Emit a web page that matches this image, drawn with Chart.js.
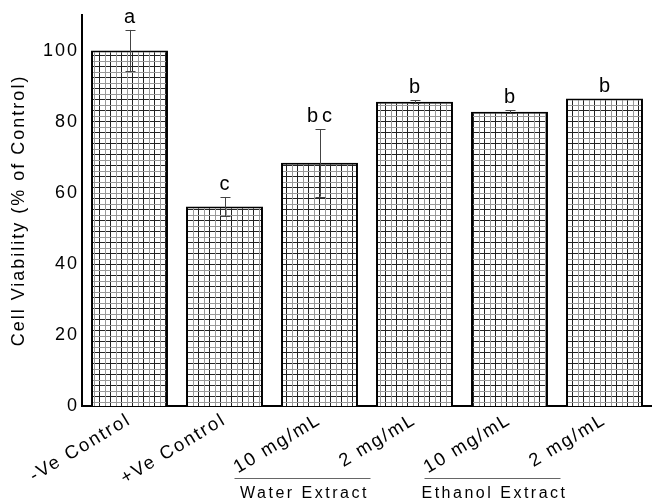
<!DOCTYPE html>
<html>
<head>
<meta charset="utf-8">
<script src="https://cdn.jsdelivr.net/npm/chart.js@4"></script>
<style>
  html, body { margin: 0; padding: 0; background: #fff; }
  #wrap { width: 652px; height: 501px; }
</style>
</head>
<body>
<div id="wrap"><canvas id="chart"></canvas></div>
<script>
const categories = ['-Ve Control', '+Ve Control', '10 mg/mL', '2 mg/mL', '10 mg/mL', '2 mg/mL'];
const viability = [100, 56.1, 68.4, 85.6, 82.8, 86.5];
const errors = [5.8, 2.7, 9.5, 0.4, 0.4, 0];
const letters = ['a', 'c', 'bc', 'b', 'b', 'b'];
const groupLabels = ['Water Extract', 'Ethanol Extract'];
const groupMembers = [[2, 3], [4, 5]];
const yTicks = [0, 20, 40, 60, 80, 100];

// grid hatch fill like the original
function makeHatch() {
  const c = document.createElement('canvas');
  c.width = 11; c.height = 11;
  const g = c.getContext('2d');
  g.fillStyle = '#fff';
  g.fillRect(0, 0, 11, 11);
  g.fillStyle = '#222';
  g.fillRect(0, 0, 11, 1);
  g.fillRect(0, 0, 1, 11);
  g.fillStyle = '#999';
  g.fillRect(0, 6, 11, 1);
  g.fillRect(6, 0, 1, 11);
  return g.createPattern(c, 'repeat');
}

const spacing = {
  id: 'spacing',
  beforeLayout(chart) { chart.ctx.letterSpacing = '2px'; },
  beforeDraw(chart) { chart.ctx.letterSpacing = '2px'; }
};

const extras = {
  id: 'extras',
  afterDatasetsDraw(chart) {
    const ctx = chart.ctx;
    const x = chart.scales.x, y = chart.scales.y;
    ctx.save();
    // error bars
    ctx.strokeStyle = '#444';
    ctx.lineWidth = 1;
    viability.forEach((v, i) => {
      if (!errors[i]) return;
      const px = Math.round(x.getPixelForValue(i)) + 0.5;
      const top = y.getPixelForValue(v + errors[i]);
      const bot = y.getPixelForValue(v - errors[i]);
      ctx.beginPath();
      ctx.moveTo(px, top); ctx.lineTo(px, bot);
      ctx.moveTo(px - 5, Math.round(top) + 0.5); ctx.lineTo(px + 5, Math.round(top) + 0.5);
      ctx.moveTo(px - 5, Math.round(bot) + 0.5); ctx.lineTo(px + 5, Math.round(bot) + 0.5);
      ctx.stroke();
    });
    // significance letters
    ctx.fillStyle = '#000';
    ctx.font = '20px "Liberation Sans", Arial, sans-serif';
    ctx.textAlign = 'center';
    ctx.textBaseline = 'alphabetic';
    ctx.letterSpacing = '4px';
    letters.forEach((t, i) => {
      const px = x.getPixelForValue(i) + 2;
      const top = y.getPixelForValue(viability[i] + errors[i]);
      ctx.fillText(t, px, top - 7);
    });
    // group labels under the rotated ticks
    ctx.letterSpacing = '2.5px';
    ctx.font = '16px "Liberation Sans", Arial, sans-serif';
    ctx.strokeStyle = '#666';
    groupMembers.forEach((m, k) => {
      const a = x.getPixelForValue(m[0]);
      const b = x.getPixelForValue(m[1]);
      const left = a - 85, right = b - 44;
      ctx.beginPath();
      ctx.moveTo(left, 478.5); ctx.lineTo(right, 478.5);
      ctx.stroke();
      ctx.fillText(groupLabels[k], (left + right) / 2 + 2, 498);
    });
    ctx.restore();
  }
};

new Chart(document.getElementById('chart'), {
  type: 'bar',
  data: {
    labels: categories,
    datasets: [{
      data: viability,
      backgroundColor: makeHatch(),
      borderColor: '#000',
      borderWidth: 2,
      borderSkipped: 'bottom',
      barPercentage: 0.81,
      categoryPercentage: 1
    }]
  },
  options: {
    responsive: true,
    maintainAspectRatio: false,
    animation: false,
    layout: { padding: { top: 15, right: 0, left: 0, bottom: 0 } },
    plugins: { legend: { display: false }, tooltip: { enabled: false } },
    scales: {
      x: {
        grid: { display: false, drawTicks: false },
        border: { color: '#000', width: 2 },
        ticks: {
          color: '#000',
          font: { size: 18.5, family: '"Liberation Sans", Arial, sans-serif' },
          minRotation: 31, maxRotation: 31, padding: 3, autoSkip: false
        },
        afterFit(s) { s.height = 95; }
      },
      y: {
        min: 0, max: 110,
        grid: { display: false, drawTicks: false },
        border: { color: '#000', width: 2 },
        afterBuildTicks(s) { s.ticks = yTicks.map(v => ({ value: v })); },
        ticks: {
          color: '#000', padding: 3,
          font: { size: 18, family: '"Liberation Sans", Arial, sans-serif' }
        },
        title: {
          display: true,
          text: 'Cell Viability (% of Control)',
          color: '#000',
          padding: { top: 8, bottom: 0 },
          font: { size: 18, family: '"Liberation Sans", Arial, sans-serif' }
        },
        afterFit(s) { s.width = 82; }
      }
    }
  },
  plugins: [spacing, extras]
});
</script>
</body>
</html>
